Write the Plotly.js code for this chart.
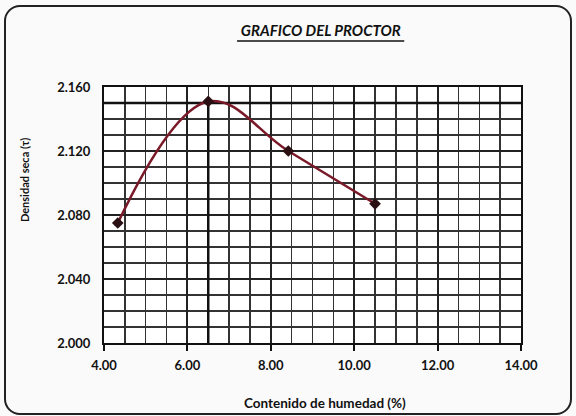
<!DOCTYPE html>
<html>
<head>
<meta charset="utf-8">
<script src="https://cdn.plot.ly/plotly-3.0.1.min.js"></script>
<style>
  html, body { margin: 0; padding: 0; background: #fafafa; }
  #wrap { position: relative; width: 576px; height: 416px; }
  #chart { position: absolute; left: 0; top: 0; width: 576px; height: 416px; }
  #frame { position: absolute; left: 4px; top: 5px; width: 564px; height: 406px;
           border: 2px solid #222; border-radius: 16px; pointer-events: none; }
</style>
</head>
<body>
<div id="wrap">
  <div id="chart"></div>
  <div id="frame"></div>
</div>
<script>
// Data
const humedad = [4.33, 6.50, 8.42, 10.50];          // Contenido de humedad (%)
const densidad = [2.075, 2.151, 2.120, 2.087];      // Densidad seca
const optHumedad = [6.50, 6.50];                    // optimum moisture line
const optHumedadY = [2.000, 2.151];
const maxDensX = [4.00, 14.00];                     // max dry density line
const maxDensY = [2.150, 2.150];
const xTicks = [4, 6, 8, 10, 12, 14];
const yTicks = [2.000, 2.040, 2.080, 2.120, 2.160];

const font = "Lato, 'Open Sans', sans-serif";

const traces = [
  { x: maxDensX, y: maxDensY, mode: 'lines', line: {color: '#111', width: 2.5},
    hoverinfo: 'skip', showlegend: false },
  { x: optHumedad, y: optHumedadY, mode: 'lines', line: {color: '#111', width: 2.5},
    hoverinfo: 'skip', showlegend: false },
  { x: humedad, y: densidad, mode: 'lines+markers',
    line: {color: '#7a1a28', width: 2.5, shape: 'spline', smoothing: 1.1},
    marker: {symbol: 'diamond', size: 9, color: '#2a1012'},
    showlegend: false }
];

const tickFont = {size: 13, family: font, color: '#111', weight: 700};

const layout = {
  width: 576, height: 416,
  margin: {l: 104, r: 55, t: 87, b: 73},
  paper_bgcolor: 'rgba(0,0,0,0)',
  plot_bgcolor: '#ffffff',
  font: {family: font, color: '#111'},
  title: {
    text: '<b><i>GRAFICO DEL PROCTOR</i></b>',
    x: 0.557, xanchor: 'center', y: 0.925, yanchor: 'middle',
    font: {size: 15, family: font, color: '#111'}
  },
  xaxis: {
    range: [4, 14], tickvals: xTicks, tickformat: '.2f',
    showgrid: true, gridcolor: '#222', gridwidth: 2,
    minor: {dtick: 0.5, showgrid: true, gridcolor: '#333', gridwidth: 1.5},
    showline: true, linecolor: '#111', linewidth: 2, mirror: true,
    ticks: 'outside', ticklen: 6, tickwidth: 2, tickcolor: '#111',
    ticklabelstandoff: 3,
    tickfont: tickFont,
    zeroline: false
  },
  yaxis: {
    range: [2.0, 2.16], tickvals: yTicks, tickformat: '.3f',
    showgrid: true, gridcolor: '#222', gridwidth: 2,
    minor: {dtick: 0.01, showgrid: true, gridcolor: '#333', gridwidth: 1.5},
    showline: true, linecolor: '#111', linewidth: 2, mirror: true,
    ticks: '', ticklen: 0,
    ticklabelstandoff: 9,
    tickfont: tickFont,
    zeroline: false
  },
  annotations: [
    {text: '<b>Contenido de humedad (%)</b>', xref: 'paper', yref: 'paper',
     x: 0.530, y: -0.236, xanchor: 'center', yanchor: 'middle', showarrow: false,
     font: {size: 13.5, family: font, color: '#111'}},
    {text: '<b>Densidad seca (τ)</b>', xref: 'paper', yref: 'paper', textangle: -90,
     x: -0.189, y: 0.637, xanchor: 'center', yanchor: 'middle', showarrow: false,
     font: {size: 11, family: font, color: '#111'}}
  ],
  shapes: [
    {type: 'line', xref: 'paper', yref: 'paper',
     x0: 0.319, x1: 0.72, y0: 1.18, y1: 1.18, line: {color: '#111', width: 1.5}}
  ]
};

Plotly.newPlot('chart', traces, layout, {displayModeBar: false, staticPlot: true});
</script>
</body>
</html>
